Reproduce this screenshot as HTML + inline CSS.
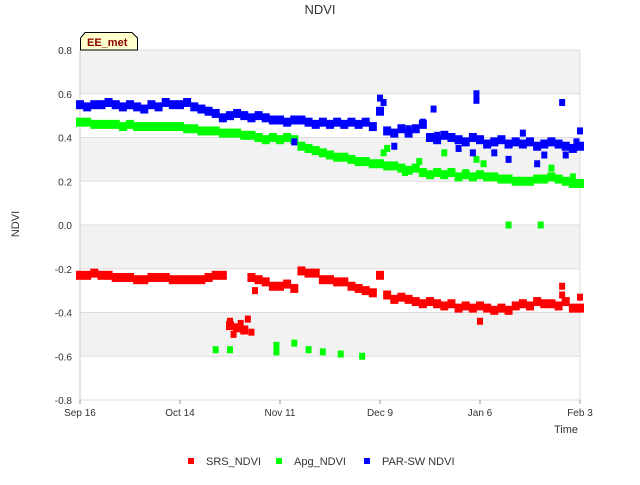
<!DOCTYPE html>
<html><head><meta charset="utf-8"><style>
body{margin:0;background:#fff;}
svg text{font-family:"Liberation Sans","DejaVu Sans",sans-serif;}
</style></head><body>
<svg id="chart" width="640" height="480" xmlns="http://www.w3.org/2000/svg">
<rect width="640" height="480" fill="#fff"/>
<g id="bands"></g>
<g id="grid"></g>
<g id="marks"></g>
<text x="320" y="14" text-anchor="middle" font-size="13" fill="#333">NDVI</text>
<text x="19" y="224" text-anchor="middle" font-size="11" fill="#333" transform="rotate(-90 19 224)">NDVI</text>
<text x="578" y="433" text-anchor="end" font-size="11" fill="#333">Time</text>
<g>
<path d="M80.5,50 L80.5,38 L85,32.5 L132,32.5 L137.5,38 L137.5,50 Z" fill="#ffffcc" stroke="#000"/>
<text x="87" y="46" font-size="11" font-weight="bold" fill="#8b0000">EE_met</text>
</g>
<g>
<g><rect x="188" y="458" width="6" height="6" fill="#ff0000"/><text x="206" y="465" font-size="11" fill="#333">SRS_NDVI</text></g>
<g><rect x="276" y="458" width="6" height="6" fill="#00ff00"/><text x="294" y="465" font-size="11" fill="#333">Apg_NDVI</text></g>
<g><rect x="364" y="458" width="6" height="6" fill="#0000ff"/><text x="382" y="465" font-size="11" fill="#333">PAR-SW NDVI</text></g>
</g>
</svg>
<script>
const yTicks=[0.8,0.6,0.4,0.2,0.0,-0.2,-0.4,-0.6,-0.8];
const xTickLabels=["Sep 16","Oct 14","Nov 11","Dec 9","Jan 6","Feb 3"];
const xTickDays=[0,28,56,84,112,140];
const parVals=[0.55,0.54,0.55,0.55,0.56,0.55,0.54,0.55,0.54,0.53,0.55,0.54,0.56,0.55,0.55,0.56,
0.54,0.53,0.52,0.51,0.49,0.50,0.51,0.50,0.49,0.50,0.49,0.48,
0.48,0.47,0.48,0.48,0.47,0.46,0.47,0.46,0.47,0.46,0.47,0.46,0.47,0.45,
0.52,0.43,0.42,0.44,0.42,0.44,0.46,0.40,0.39,0.41,0.40,0.39,0.38,0.40,
0.39,0.37,0.38,0.39,0.37,0.38,0.37,0.38,0.36,0.37,0.38,0.37,0.36,0.35,0.36];
const apgVals=[0.47,0.47,0.46,0.46,0.46,0.46,0.45,0.46,0.45,0.45,0.45,0.45,0.45,0.45,0.45,0.44,
0.44,0.43,0.43,0.43,0.42,0.42,0.42,0.41,0.41,0.40,0.39,0.40,
0.39,0.40,0.39,0.36,0.35,0.34,0.33,0.32,0.31,0.31,0.30,0.29,0.29,0.28,
0.28,0.27,0.27,0.26,0.25,0.26,0.24,0.23,0.24,0.23,0.24,0.22,0.23,0.22,
0.23,0.22,0.22,0.21,0.21,0.20,0.20,0.20,0.21,0.21,0.22,0.21,0.20,0.19,0.19];
const srsVals=[-0.23,-0.23,-0.22,-0.23,-0.23,-0.24,-0.24,-0.24,-0.25,-0.25,-0.24,-0.24,-0.24,-0.25,-0.25,-0.25,
-0.25,-0.25,-0.24,-0.23,-0.23,-0.46,-0.47,-0.48,-0.24,-0.25,-0.26,-0.28,
-0.28,-0.27,-0.29,-0.21,-0.22,-0.22,-0.25,-0.25,-0.26,-0.26,-0.28,-0.29,-0.30,-0.31,
-0.23,-0.32,-0.34,-0.33,-0.34,-0.35,-0.36,-0.35,-0.36,-0.37,-0.36,-0.38,-0.37,-0.38,
-0.37,-0.38,-0.39,-0.38,-0.39,-0.37,-0.36,-0.37,-0.35,-0.36,-0.36,-0.37,-0.35,-0.38,-0.38];
const apgOutlierDays=[38,42,55,55,60,64,68,73,79,120,129,85,86,91,95,102,108,111,113,132,138];
const apgOutlierVals=[-0.57,-0.57,-0.55,-0.58,-0.54,-0.57,-0.58,-0.59,-0.60,0.0,0.0,0.33,0.35,0.24,0.29,0.33,0.24,0.30,0.28,0.26,0.22];
const srsOutlierDays=[42,43,45,47,48,49,112,135,135,140];
const srsOutlierVals=[-0.44,-0.50,-0.45,-0.43,-0.49,-0.30,-0.44,-0.28,-0.32,-0.33];
const parOutlierDays=[84,85,111,111,135,60,110,120,128,140,99,88,92,96,100,106,116,124,130,136,139];
const parOutlierVals=[0.58,0.56,0.60,0.57,0.56,0.38,0.33,0.30,0.28,0.43,0.53,0.36,0.44,0.47,0.41,0.35,0.33,0.42,0.32,0.32,0.38];
const dayStep=2;

const NS="http://www.w3.org/2000/svg";
const X0=80,X1=580,Y0=50,Y1=400;
function xScale(d){return X0+(d/140)*(X1-X0);}
function yScale(v){return Y1-(v+0.8)/1.6*(Y1-Y0);}
function mk(tag,attrs,parent){const e=document.createElementNS(NS,tag);for(const k in attrs)e.setAttribute(k,attrs[k]);parent.appendChild(e);return e;}
const bands=document.getElementById('bands'),grid=document.getElementById('grid'),marks=document.getElementById('marks');
for(let i=0;i<yTicks.length-1;i++){
 const r=mk('rect',{x:X0,y:yScale(yTicks[i]),width:X1-X0,height:yScale(yTicks[i+1])-yScale(yTicks[i]),fill:i%2===0?'#f2f2f2':'#ffffff'},bands);
 
 
}
yTicks.forEach(v=>{
 const y=yScale(v);
 const l=mk('line',{x1:X0,x2:X1,y1:y,y2:y,stroke:'#ddd','stroke-width':1},grid);
 
 
 const t=mk('text',{x:72,y:y+4,'text-anchor':'end','font-size':10,fill:'#333'},grid);
 t.textContent=v.toFixed(1);
 
 
});
const ax=mk('line',{x1:X0,x2:X0,y1:Y0,y2:Y1,stroke:'#ccc'},grid);


const ax2=mk('line',{x1:X1,x2:X1,y1:Y0,y2:Y1,stroke:'#ddd'},grid);


xTickDays.forEach((d,i)=>{
 const x=xScale(d);
 const tk=mk('line',{x1:x,x2:x,y1:Y1,y2:Y1+4,stroke:'#999'},grid);
 
 
 const t=mk('text',{x:x,y:416,'text-anchor':'middle','font-size':10,fill:'#333'},grid);
 t.textContent=xTickLabels[i];
 
 
});
function drawSeries(vals,color,name){
 vals.forEach((v,i)=>{
  const r=mk('rect',{x:xScale(i*dayStep)-4,y:yScale(v)-4.5,width:8,height:9,fill:color},marks);
  
  
 });
}
function drawOutliers(days,vals,color,name){
 days.forEach((d,i)=>{
  const r=mk('rect',{x:xScale(d)-3,y:yScale(vals[i])-3.5,width:6,height:7,fill:color},marks);
  
  
 });
}
drawSeries(apgVals,'#00ff00','apg-point');
drawOutliers(apgOutlierDays,apgOutlierVals,'#00ff00','apg-point');
drawSeries(srsVals,'#ff0000','srs-point');
drawOutliers(srsOutlierDays,srsOutlierVals,'#ff0000','srs-point');
drawSeries(parVals,'#0000ff','par-point');
drawOutliers(parOutlierDays,parOutlierVals,'#0000ff','par-point');
</script>
</body></html>
